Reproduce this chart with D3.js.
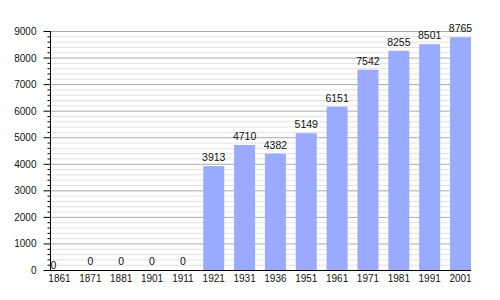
<!DOCTYPE html>
<html><head><meta charset="utf-8">
<script src="https://cdn.jsdelivr.net/npm/d3@7"></script>
<style>html,body{margin:0;padding:0;background:#fff;}svg{display:block;}</style>
</head><body>
<svg id="chart" width="500" height="300"></svg>
<script>
const years = ["1861","1871","1881","1901","1911","1921","1931","1936","1951","1961","1971","1981","1991","2001"];
const population = [0,0,0,0,0,3913,4710,4382,5149,6151,7542,8255,8501,8765];
const yMajorTicks = [0,1000,2000,3000,4000,5000,6000,7000,8000,9000];

const svg = d3.select("#chart");
const font = "Liberation Sans, Arial, sans-serif";
const x = d3.scaleBand().domain(years).range([49, 471]).paddingInner(0.32).paddingOuter(0);
const y = d3.scaleLinear().domain([0, 9000]).range([270, 31]);
const left = 50, right = 471;

const minorTicks = d3.range(0, 9001, 200).filter(v => v % 1000 !== 0);

// minor gridlines
svg.append("g").selectAll("line").data(minorTicks).join("line")
  .attr("x1", left).attr("x2", right)
  .attr("y1", d => y(d) + 0.5).attr("y2", d => y(d) + 0.5)
  .attr("stroke", "#e2e2e2").attr("stroke-width", 1);
// major gridlines
svg.append("g").selectAll("line").data(yMajorTicks.filter(v => v > 0)).join("line")
  .attr("x1", left).attr("x2", right)
  .attr("y1", d => y(d) + 0.5).attr("y2", d => y(d) + 0.5)
  .attr("stroke", "#aaaaaa").attr("stroke-width", 1);

// bars
svg.append("g").selectAll("rect").data(years).join("rect")
  .attr("x", d => x(d))
  .attr("width", x.bandwidth())
  .attr("y", (d, i) => y(population[i]))
  .attr("height", (d, i) => y(0) - y(population[i]))
  .attr("fill", "#99aaff");

// value labels
svg.append("g").selectAll("text").data(years).join("text")
  .attr("x", (d, i) => i === 0 ? left + 0.5 : x(d) + x.bandwidth() / 2)
  .attr("y", (d, i) => i === 0 ? y(0) - 1 : y(population[i]) - 5)
  .attr("text-anchor", (d, i) => i === 0 ? "start" : "middle")
  .attr("font-family", font).attr("font-size", "10.5px").attr("fill", "#111")
  .text((d, i) => population[i]);

// y axis
const yAxis = svg.append("g").attr("transform", `translate(${left + 0.5},0)`);
yAxis.append("line").attr("x1", 0).attr("x2", 0).attr("y1", y(9000)).attr("y2", y(0) + 1)
  .attr("stroke", "#000");
yAxis.selectAll("line.minor").data(minorTicks).join("line").attr("class", "minor")
  .attr("x1", -3).attr("x2", 0).attr("y1", d => y(d) + 0.5).attr("y2", d => y(d) + 0.5)
  .attr("stroke", "#000");
yAxis.selectAll("line.major").data(yMajorTicks).join("line").attr("class", "major")
  .attr("x1", -7).attr("x2", 0).attr("y1", d => y(d) + 0.5).attr("y2", d => y(d) + 0.5)
  .attr("stroke", "#000");
yAxis.selectAll("text").data(yMajorTicks).join("text")
  .attr("x", -14).attr("y", d => y(d) + 4)
  .attr("text-anchor", "end")
  .attr("font-family", font).attr("font-size", "10px").attr("fill", "#111")
  .text(d => d);

// x axis
const xAxis = d3.axisBottom(x).tickSize(0).tickPadding(4);
const gx = svg.append("g").attr("transform", `translate(0,${y(0) + 0.5})`).call(xAxis);
gx.select(".domain").attr("d", `M${left},0H${right}`).attr("stroke", "#000");
gx.selectAll("text").attr("font-family", font).attr("font-size", "10px").attr("fill", "#111");
</script>
</body></html>
